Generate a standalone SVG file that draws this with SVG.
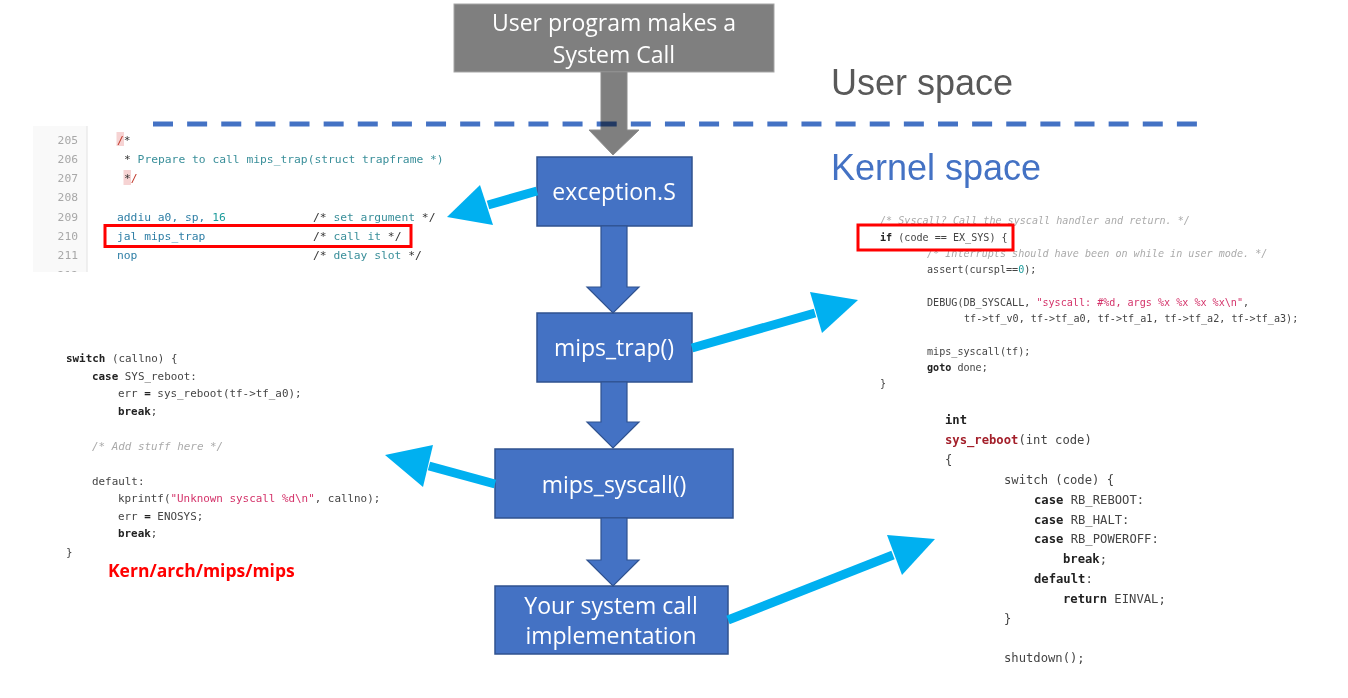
<svg xmlns="http://www.w3.org/2000/svg" width="1348" height="698" viewBox="0 0 1348 698">
<style>
.box{fill:#4472c4;stroke:#2f528f;stroke-width:1.5}
.barrow{fill:#4472c4;stroke:#2f528f;stroke-width:1.2}
.btxt{font-family:"Open Sans","Noto Sans",sans-serif;font-size:23px;fill:#ffffff;text-anchor:middle}
.cy{fill:#00b0f0}
.cyl{stroke:#00b0f0;stroke-width:9;fill:none}
.m1{font-family:"DejaVu Sans Mono",monospace;font-size:11.3px;fill:#2f7fa6}
.ln{font-family:"DejaVu Sans Mono",monospace;font-size:11.3px;fill:#a8a8a8;text-anchor:end}
.m2{font-family:"DejaVu Sans Mono",monospace;font-size:10.1px;fill:#444}
.m3{font-family:"DejaVu Sans Mono",monospace;font-size:10.9px;fill:#444}
.m4{font-family:"DejaVu Sans Mono",monospace;font-size:12.2px;fill:#444}
.b{font-weight:bold;fill:#222}
.cm{font-style:italic;fill:#aaaaaa}
.str{fill:#d4336a}
.num{fill:#1c9c9c}
.tl{fill:#3a8f9a}
.dk{fill:#333}
.hl{fill:none;stroke:#ff0000;stroke-width:3}
</style>
<defs>
<clipPath id="clipTL"><rect x="30" y="125" width="430" height="147"/></clipPath>
</defs>
<rect x="0" y="0" width="1348" height="698" fill="#ffffff"/>

<g id="code-exception">
<g clip-path="url(#clipTL)">
<rect x="33" y="126" width="54" height="146" fill="#f9f9f9"/>
<line x1="87" y1="126" x2="87" y2="272" stroke="#e2e2e2" stroke-width="1"/>
<text class="ln" x="78" y="144">205</text>
<text class="ln" x="78" y="163">206</text>
<text class="ln" x="78" y="182">207</text>
<text class="ln" x="78" y="201">208</text>
<text class="ln" x="78" y="221">209</text>
<text class="ln" x="78" y="240">210</text>
<text class="ln" x="78" y="259">211</text>
<text class="ln" x="78" y="279">212</text>
<rect x="116.5" y="132" width="7.5" height="14" fill="#f6d3d3"/>
<text class="m1" x="117" y="144"><tspan fill="#c0392b">/</tspan><tspan class="dk">*</tspan></text>
<text class="m1" x="124" y="163"><tspan class="dk">*</tspan><tspan class="tl"> Prepare to call mips_trap(struct trapframe *)</tspan></text>
<rect x="123.5" y="170" width="7.5" height="15" fill="#f6d3d3"/>
<text class="m1" x="124" y="182"><tspan class="dk">*</tspan><tspan fill="#c0392b">/</tspan></text>
<text class="m1" x="117" y="221">addiu a0, sp, <tspan class="num">16</tspan></text>
<text class="m1" x="313" y="221"><tspan class="dk">/*</tspan><tspan class="tl"> set argument </tspan><tspan class="dk">*/</tspan></text>
<text class="m1" x="117" y="240">jal mips_trap</text>
<text class="m1" x="313" y="240"><tspan class="dk">/*</tspan><tspan class="tl"> call it </tspan><tspan class="dk">*/</tspan></text>
<text class="m1" x="117" y="259">nop</text>
<text class="m1" x="313" y="259"><tspan class="dk">/*</tspan><tspan class="tl"> delay slot </tspan><tspan class="dk">*/</tspan></text>
</g>
<rect class="hl" x="105" y="225.5" width="306" height="21"/>
</g>

<g id="code-trap">
<text class="m2 cm" x="880" y="224">/* Syscall? Call the syscall handler and return. */</text>
<text class="m2" x="880" y="241"><tspan class="b">if</tspan> (code == EX_SYS) {</text>
<text class="m2 cm" x="927" y="257">/* Interrupts should have been on while in user mode. */</text>
<text class="m2" x="927" y="273">assert(curspl==<tspan class="num">0</tspan>);</text>
<text class="m2" x="927" y="306">DEBUG(DB_SYSCALL, <tspan class="str">"syscall: #%d, args %x %x %x %x\n"</tspan>,</text>
<text class="m2" x="964" y="322">tf-&gt;tf_v0, tf-&gt;tf_a0, tf-&gt;tf_a1, tf-&gt;tf_a2, tf-&gt;tf_a3);</text>
<text class="m2" x="927" y="355">mips_syscall(tf);</text>
<text class="m2" x="927" y="371"><tspan class="b">goto</tspan> done;</text>
<text class="m2" x="880" y="387">}</text>
<rect class="hl" x="858" y="225" width="155" height="25"/>
</g>

<g id="code-syscall">
<text class="m3" x="66" y="362"><tspan class="b">switch</tspan> (callno) {</text>
<text class="m3" x="92" y="380"><tspan class="b">case</tspan> SYS_reboot:</text>
<text class="m3" x="118" y="397">err <tspan class="b">=</tspan> sys_reboot(tf-&gt;tf_a0);</text>
<text class="m3" x="118" y="415"><tspan class="b">break</tspan>;</text>
<text class="m3 cm" x="92" y="450">/* Add stuff here */</text>
<text class="m3" x="92" y="485">default:</text>
<text class="m3" x="118" y="502">kprintf(<tspan class="str">"Unknown syscall %d\n"</tspan>, callno);</text>
<text class="m3" x="118" y="520">err <tspan class="b">=</tspan> ENOSYS;</text>
<text class="m3" x="118" y="537"><tspan class="b">break</tspan>;</text>
<text class="m3" x="66" y="556">}</text>
<text x="108" y="577" font-family="'Open Sans','Noto Sans',sans-serif" font-size="17.5" font-weight="bold" fill="#ff0000">Kern/arch/mips/mips</text>
</g>

<g id="code-reboot">
<text class="m4" x="945" y="424"><tspan class="b">int</tspan></text>
<text class="m4" x="945" y="444"><tspan font-weight="bold" fill="#a31f2a">sys_reboot</tspan>(int code)</text>
<text class="m4" x="945" y="464">{</text>
<text class="m4" x="1004" y="484">switch (code) {</text>
<text class="m4" x="1034" y="504"><tspan class="b">case</tspan> RB_REBOOT:</text>
<text class="m4" x="1034" y="524"><tspan class="b">case</tspan> RB_HALT:</text>
<text class="m4" x="1034" y="543"><tspan class="b">case</tspan> RB_POWEROFF:</text>
<text class="m4" x="1063" y="563"><tspan class="b">break</tspan>;</text>
<text class="m4" x="1034" y="583"><tspan class="b">default</tspan>:</text>
<text class="m4" x="1063" y="603"><tspan class="b">return</tspan> EINVAL;</text>
<text class="m4" x="1004" y="623">}</text>
<text class="m4" x="1004" y="662">shutdown();</text>
</g>

<g id="labels">
<text x="831" y="95" font-family="'Liberation Sans',Arial,sans-serif" font-size="36" fill="#595959">User space</text>
<text x="831" y="180" font-family="'Liberation Sans',Arial,sans-serif" font-size="36" fill="#4472c4">Kernel space</text>
</g>

<g id="user-program">
<rect x="454" y="4" width="320" height="68" fill="#7f7f7f" stroke="#a6a6a6" stroke-width="1"/>
<text class="btxt" x="614" y="31">User program makes a</text>
<text class="btxt" x="614" y="63">System Call</text>
</g>

<g id="exception-s">
<rect class="box" x="537" y="157" width="155" height="69"/>
<text class="btxt" x="614" y="200">exception.S</text>
</g>
<g id="mips-trap">
<rect class="box" x="537" y="313" width="155" height="69"/>
<text class="btxt" x="614" y="356">mips_trap()</text>
</g>
<g id="mips-syscall">
<rect class="box" x="495" y="449" width="238" height="69"/>
<text class="btxt" x="614" y="493">mips_syscall()</text>
</g>
<g id="impl">
<rect class="box" x="495" y="586" width="233" height="68"/>
<text class="btxt" x="611" y="614">Your system call</text>
<text class="btxt" x="611" y="644">implementation</text>
</g>

<g id="connectors">
<polygon points="601,72 627,72 627,130 639,130 613,155 589,130 601,130" fill="#7f7f7f" stroke="#8c8c8c" stroke-width="1"/>
<line x1="153" y1="124" x2="1197" y2="124" stroke="#4472c4" stroke-width="5" stroke-dasharray="20 14.13" style="mix-blend-mode:multiply"/>
<polygon class="barrow" points="601,226 627,226 627,287 639,287 613,313 587,287 601,287"/>
<polygon class="barrow" points="601,382 627,382 627,422 639,422 613,448 587,422 601,422"/>
<polygon class="barrow" points="601,518 627,518 627,560 639,560 613,586 587,560 601,560"/>
<line class="cyl" x1="537" y1="191" x2="488" y2="205"/>
<polygon class="cy" points="447,217 480,185 493,225"/>
<line class="cyl" x1="692" y1="348" x2="815" y2="313"/>
<polygon class="cy" points="858,300 810,292 822,333"/>
<line class="cyl" x1="495" y1="484" x2="429" y2="466"/>
<polygon class="cy" points="385,455 433,445 423,487"/>
<line class="cyl" x1="728" y1="620" x2="893" y2="555"/>
<polygon class="cy" points="935,539 887,535 902,575"/>
</g>
</svg>
